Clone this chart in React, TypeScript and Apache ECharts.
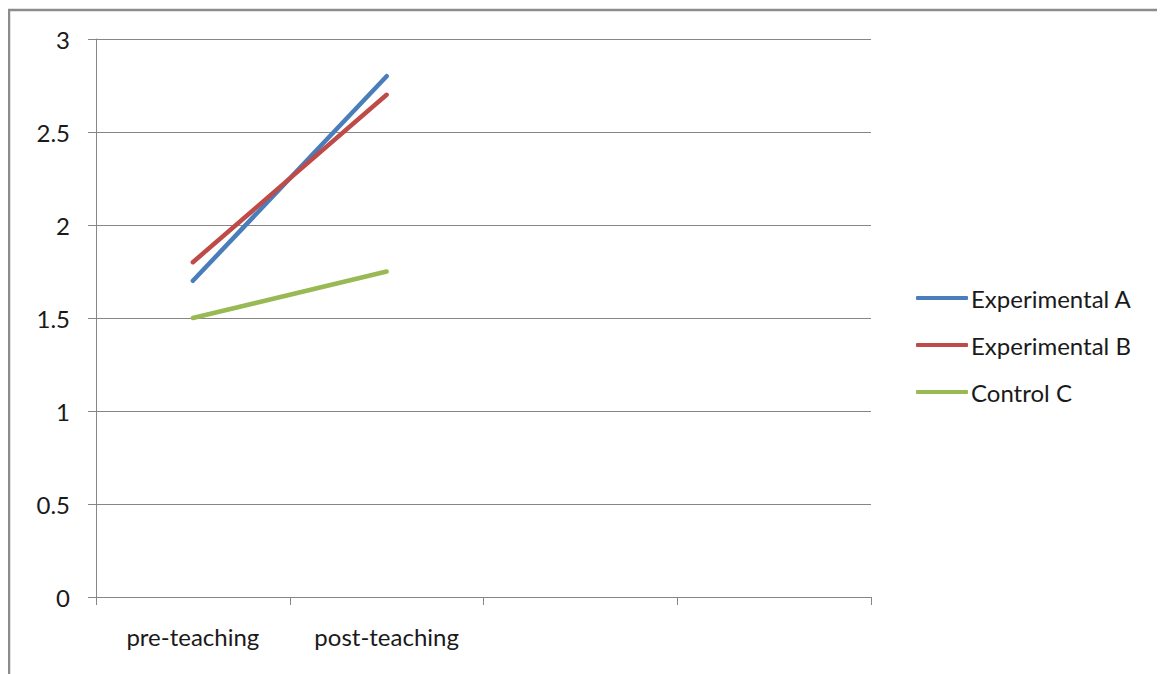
import React, { useEffect, useRef } from "react";
import * as echarts from "echarts";

const categories = ["pre-teaching", "post-teaching", "", ""];
const seriesNames = ["Experimental A", "Experimental B", "Control C"];
const experimentalA = [1.7, 2.8, null, null];
const experimentalB = [1.8, 2.7, null, null];
const controlC = [1.5, 1.75, null, null];
const colors = ["#4a7ebb", "#be4b48", "#98b954"];

export default function App() {
  const ref = useRef<HTMLDivElement>(null);
  useEffect(() => {
    const chart = echarts.init(ref.current!, null, { renderer: "svg" });
    const font = "Lato, 'Open Sans', sans-serif";
    const mk = (name: string, data: (number | null)[], color: string) => ({
      name,
      type: "line",
      data,
      symbol: "none",
      lineStyle: { width: 4.5, color, cap: "round" },
      itemStyle: { color },
      connectNulls: false,
    });
    chart.setOption({
      animation: false,
      backgroundColor: "#ffffff",
      textStyle: { fontFamily: font },
      graphic: [
        {
          type: "rect",
          shape: { x: 1, y: 2, width: 1152, height: 680 },
          style: { fill: "none", stroke: "#8c8c8c", lineWidth: 2.5 },
          silent: true,
        },
      ],
      grid: { left: 88, top: 31, width: 775, height: 558, containLabel: false },
      legend: {
        orient: "vertical",
        left: 903,
        top: 273,
        itemWidth: 52,
        itemHeight: 4,
        itemGap: 23,
        icon: "roundRect",
        textStyle: { fontFamily: font, fontSize: 24, color: "#1a1a1a", padding: [0, 0, 0, -2] },
        data: seriesNames,
      },
      xAxis: {
        type: "category",
        data: categories,
        boundaryGap: true,
        axisLine: { lineStyle: { color: "#868686", width: 1 } },
        axisTick: { show: true, length: 8, lineStyle: { color: "#868686" }, alignWithLabel: false },
        axisLabel: { fontFamily: font, fontSize: 24, color: "#1a1a1a", margin: 27, interval: 0 },
        splitLine: { show: false },
      },
      yAxis: {
        type: "value",
        min: 0,
        max: 3,
        interval: 0.5,
        axisLine: { show: true, lineStyle: { color: "#868686", width: 1 } },
        axisTick: { show: true, length: 8, lineStyle: { color: "#868686" } },
        axisLabel: { fontFamily: font, fontSize: 24, color: "#1a1a1a", margin: 26, padding: [0, 0, 5, 0] },
        splitLine: { show: true, lineStyle: { color: "#868686", width: 1 } },
      },
      series: [
        mk(seriesNames[0], experimentalA, colors[0]),
        mk(seriesNames[1], experimentalB, colors[1]),
        mk(seriesNames[2], controlC, colors[2]),
      ],
    });
    return () => chart.dispose();
  }, []);
  return <div ref={ref} style={{ width: 1157, height: 666 }} />;
}
